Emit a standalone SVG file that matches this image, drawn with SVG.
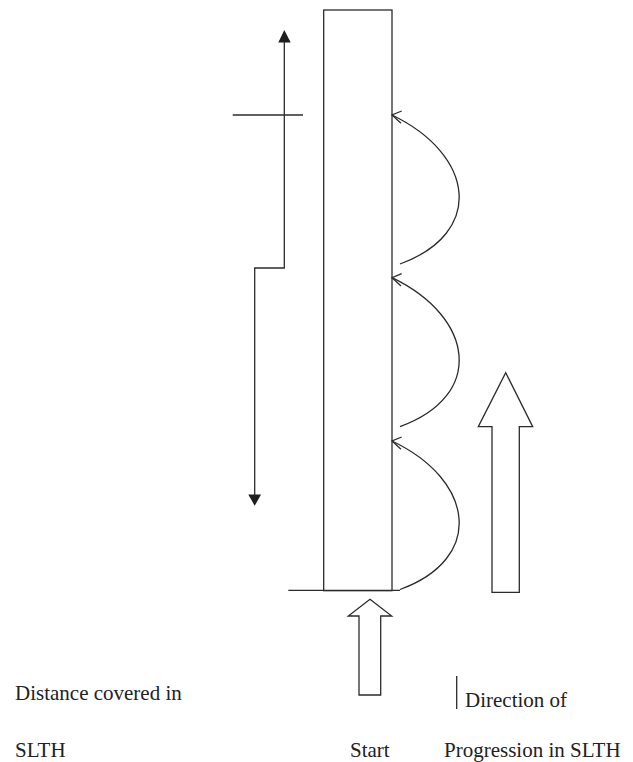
<svg xmlns="http://www.w3.org/2000/svg" xmlns:xlink="http://www.w3.org/1999/xlink" width="633" height="762" viewBox="0 0 633 762">
<style>
.ln{fill:none;stroke:#2b2b2b;stroke-width:1.3}
.sh{fill:#fff;stroke:#2b2b2b;stroke-width:1.3;stroke-linejoin:miter}
.hd{fill:#1e1e1e;stroke:none}
.tx{font-size:21px;fill:#222}
</style>
<defs>
<path id="openhead" d="M9.7,-4 L0,0 L9,8.3" class="ln"/>
</defs>
<rect x="0" y="0" width="633" height="762" fill="#fff"/>
<g id="column">
<rect class="sh" x="323.7" y="10" width="68.3" height="580.7"/>
</g>
<g id="connectors">
<line class="ln" x1="288.3" y1="590.3" x2="400" y2="590.3"/>
<polyline class="ln" points="284.3,40 284.3,268 254.7,268 254.7,496"/>
<polygon class="hd" points="284.3,30 278.3,42.5 290.7,42.5"/>
<polygon class="hd" points="254.7,505.7 248.3,494.5 261,494.5"/>
<line class="ln" x1="232.7" y1="115" x2="303" y2="115"/>
<path class="ln" d="M400,264 C485,233 475,155 392,115"/>
<path class="ln" d="M400,426.7 C485,395.7 475,317.7 392,277.7"/>
<path class="ln" d="M400,589.5 C485,558.5 475,480.5 392,441"/>
<use xlink:href="#openhead" x="392" y="115"/>
<use xlink:href="#openhead" x="392" y="277.7"/>
<use xlink:href="#openhead" x="392" y="441"/>
<line class="ln" x1="456.7" y1="676" x2="456.7" y2="709"/>
</g>
<g id="start-arrow">
<polygon class="sh" points="370,599.3 391.7,616 380.7,616 380.7,695 359,695 359,616 348.3,616"/>
</g>
<g id="progression-arrow">
<polygon class="sh" points="505.7,372.7 532.7,426.7 519.3,426.7 519.3,592.3 492,592.3 492,426.7 478.3,426.7"/>
</g>
<g id="labels" font-family="'Liberation Serif', 'DejaVu Serif', serif">
<text class="tx" x="15" y="700">Distance covered in</text>
<text class="tx" x="15" y="757">SLTH</text>
<text class="tx" x="350" y="757">Start</text>
<text class="tx" x="465" y="707">Direction of</text>
<text class="tx" x="444" y="757">Progression in SLTH</text>
</g>
</svg>
